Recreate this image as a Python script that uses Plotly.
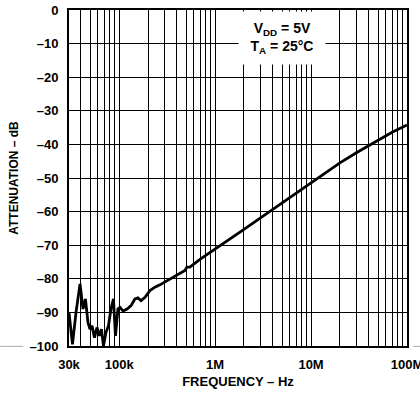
import plotly.graph_objects as go

# Frequency (Hz) and attenuation (dB)
freq = [30.0e3, 32.6e3, 35.5e3, 39.1e3, 42.0e3, 44.5e3, 47.3e3, 49.6e3, 52.1e3, 55.3e3,
        58.7e3, 62.3e3, 65.4e3, 68.6e3, 72.8e3, 77.3e3, 82.1e3, 87.2e3, 91.5e3, 97.1e3,
        102e3, 110e3, 121e3, 133e3, 146e3, 157e3, 169e3, 186e3, 209e3, 236e3,
        266e3, 338e3, 429e3, 485e3, 508e3, 546e3, 695e3, 1.0e6, 2.0e6, 3.0e6,
        5.0e6, 7.0e6, 10e6, 20e6, 30e6, 50e6, 70e6, 100e6]
atten = [-90.0, -99.5, -90.0, -81.5, -89.0, -86.0, -93.0, -95.0, -94.0, -97.5,
         -94.5, -97.0, -95.0, -100.0, -96.0, -94.0, -89.0, -86.0, -97.0, -89.0,
         -88.5, -89.6, -89.0, -88.0, -86.0, -85.7, -86.5, -85.5, -83.5, -82.5,
         -81.8, -80.0, -78.2, -77.5, -76.5, -76.5, -74.2, -71.2, -65.3, -61.8,
         -57.4, -54.5, -51.4, -45.5, -42.4, -38.8, -36.4, -34.2]

# Axis ticks / grid
x_ticks = [3e4, 1e5, 1e6, 1e7, 1e8]
x_ticktext = ["30k", "100k", "1M", "10M", "100M"]
x_minor = [m * 10 ** e for e in range(4, 9) for m in range(2, 10)
           if 3e4 < m * 10 ** e < 1e8]
y_vals = list(range(0, -101, -10))
y_text = [("–" + str(-v)) if v < 0 else "0" for v in y_vals]

font_family = "Arial, Liberation Sans, sans-serif"
tick_font = dict(family=font_family, size=13, color="black", weight="bold")

fig = go.Figure()
fig.add_trace(go.Scatter(x=freq, y=atten, mode="lines",
                         line=dict(color="black", width=2.8),
                         showlegend=False, hoverinfo="skip"))

fig.update_xaxes(type="log", range=[4.4771, 8.0002], automargin=False,
                 tickmode="array", tickvals=x_ticks, ticktext=x_ticktext,
                 minor=dict(tickmode="array", tickvals=x_minor, showgrid=True,
                            gridcolor="black", gridwidth=1, ticks=""),
                 showgrid=True, gridcolor="black", gridwidth=1,
                 showline=True, linecolor="black", linewidth=2, mirror=True,
                 ticks="", ticklabelstandoff=5, ticklabeloverflow="allow",
                 tickfont=tick_font,
                 title=dict(text="FREQUENCY – Hz", standoff=6,
                            font=dict(family=font_family, size=13, color="black",
                                      weight="bold")))
fig.update_yaxes(range=[-100, 0], tickvals=y_vals, ticktext=y_text, automargin=False,
                 showgrid=True, gridcolor="black", gridwidth=1, zeroline=False,
                 showline=True, linecolor="black", linewidth=2, mirror=True,
                 ticks="", ticklabelstandoff=6,
                 tickfont=tick_font,
                 title=dict(text="ATTENUATION – dB", standoff=8,
                            font=dict(family=font_family, size=12, color="black",
                                      weight="bold")))

fig.add_annotation(x=0.63, y=0.918, xref="paper", yref="paper",
                   text="V<sub>DD</sub> = 5V<br>T<sub>A</sub> = 25°C",
                   showarrow=False, bgcolor="white", width=84, height=50,
                   font=dict(family=font_family, size=14, color="black", weight="bold"),
                   align="center", xanchor="center", yanchor="middle")

# faint scan marks at the bottom edge
fig.add_shape(type="line", xref="paper", yref="paper", x0=-0.204, x1=-0.135,
              y0=-0.001, y1=-0.001, line=dict(color="#aaaaaa", width=1))
fig.add_shape(type="line", xref="paper", yref="paper", x0=1.018, x1=1.04,
              y0=-0.001, y1=-0.001, line=dict(color="#aaaaaa", width=1))

fig.update_layout(width=420, height=398, margin=dict(l=69, r=13, t=10, b=52),
                  paper_bgcolor="white", plot_bgcolor="white",
                  font=dict(family=font_family, color="black"))

fig.write_html("out.html")
